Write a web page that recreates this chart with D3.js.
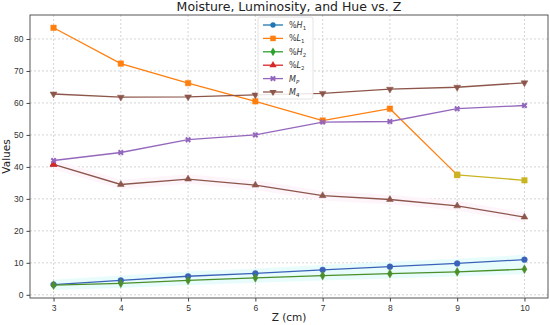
<!DOCTYPE html>
<html>
<head>
<meta charset="utf-8">
<script src="https://cdn.jsdelivr.net/npm/d3@7"></script>
<style>
  body { margin: 0; background: #fff; }
  svg { font-family: "DejaVu Sans", sans-serif; }
  .grid line { stroke: #c8c8c8; stroke-dasharray: 2,2; stroke-width: 0.8; }
  .axis text { font-size: 8.5px; fill: #333; }
  .axis path, .axis line { stroke: #444; }
</style>
</head>
<body>
<div id="chart"></div>
<script>
// data
var zValues = [3, 4, 5, 6, 7, 8, 9, 10];
var h1 = [3.2, 4.5, 5.8, 6.7, 7.8, 8.8, 9.8, 11.0];
var l1 = [83.5, 72.3, 66.2, 60.5, 54.5, 58.2, 37.5, 35.8];
var h2 = [3.0, 3.6, 4.5, 5.3, 6.0, 6.6, 7.2, 8.0];
var l2 = [40.8, 34.5, 36.2, 34.3, 31.0, 29.8, 27.8, 24.3];
var mp = [42.0, 44.5, 48.5, 50.0, 54.0, 54.2, 58.2, 59.2];
var m4 = [62.8, 61.8, 61.9, 62.5, 63.0, 64.3, 64.9, 66.3];
var yTicks = [0, 10, 20, 30, 40, 50, 60, 70, 80];

var W = 550, H = 325;
var margin = {top: 15, right: 2, bottom: 27, left: 30};
var width = W - margin.left - margin.right,
    height = H - margin.top - margin.bottom;

var x = d3.scaleLinear().domain([2.65, 10.35]).range([0, width]);
var y = d3.scaleLinear().domain([-1.0, 87.5]).range([height, 0]);

var svg = d3.select("#chart").append("svg")
  .attr("width", W).attr("height", H);
var g = svg.append("g").attr("transform", "translate(" + margin.left + "," + margin.top + ")");

// grid
g.append("g").attr("class", "grid")
  .selectAll("line").data(zValues).enter().append("line")
  .attr("x1", function(d) { return x(d); }).attr("x2", function(d) { return x(d); })
  .attr("y1", 0).attr("y2", height);
g.append("g").attr("class", "grid")
  .selectAll("line").data(yTicks).enter().append("line")
  .attr("y1", function(d) { return y(d); }).attr("y2", function(d) { return y(d); })
  .attr("x1", 0).attr("x2", width);

function pts(arr) {
  return arr.map(function(v, i) { return [zValues[i], v]; });
}

// faint bands
var band = d3.area()
  .x(function(d) { return x(d[0]); })
  .y0(function(d) { return y(d[1]); })
  .y1(function(d) { return y(d[2]); });
g.append("path")
  .datum(zValues.map(function(z, i) { return [z, h2[i] - 1.5, h1[i] + 1.5]; }))
  .attr("d", band).attr("fill", "#e9fcfc");
g.append("path")
  .datum(zValues.map(function(z, i) { return [z, l2[i] - 1.5, l2[i] + 1.5]; }))
  .attr("d", band).attr("fill", "#fef5fb");

var line = d3.line()
  .x(function(d) { return x(d[0]); })
  .y(function(d) { return y(d[1]); });

function marker(sel, type, color, size) {
  var sym;
  if (type === "circle") sym = d3.symbol().type(d3.symbolCircle).size(size || 26);
  else if (type === "square") sym = d3.symbol().type(d3.symbolSquare).size(size || 30);
  else if (type === "diamond") sym = d3.symbol().type(d3.symbolDiamond).size(size || 22);
  else if (type === "triangle") sym = d3.symbol().type(d3.symbolTriangle).size(size || 20);
  else if (type === "tridown") sym = d3.symbol().type(d3.symbolTriangle).size(size || 20);
  else if (type === "x") sym = d3.symbol().type(d3.symbolCross).size(size || 22);
  sel.attr("d", sym)
    .attr("fill", color)
    .attr("stroke", color)
    .attr("stroke-width", type === "x" ? 0 : 0.5);
  if (type === "tridown") sel.attr("transform", function(d) { return "translate(" + x(d[0]) + "," + y(d[1]) + ") rotate(180)"; });
  else if (type === "x") sel.attr("transform", function(d) { return "translate(" + x(d[0]) + "," + y(d[1]) + ") rotate(45)"; });
  else sel.attr("transform", function(d) { return "translate(" + x(d[0]) + "," + y(d[1]) + ")"; });
}

function series(data, color, type) {
  g.append("path").datum(data).attr("d", line)
    .attr("fill", "none").attr("stroke", color).attr("stroke-width", 1.3);
  g.append("g").selectAll("path").data(data).enter().append("path")
    .call(marker, type, color);
}

series(pts(h1), "#3a62b8", "circle");
series(pts(l1).slice(0, 7), "#ff7f0e", "square");
series(pts(l1).slice(6), "#c8b520", "square");
series(pts(h2), "#4b8f2a", "diamond");
series(pts(l2).slice(0, 1), "#d62728", "triangle");
series(pts(l2), "#8c564b", "triangle");
g.append("g").selectAll("path").data(pts(l2).slice(0, 1)).enter().append("path")
  .call(marker, "triangle", "#d62728");
series(pts(mp), "#9467bd", "x");
series(pts(m4), "#8c564b", "tridown");

// axes
var xAxis = d3.axisBottom(x).tickValues(zValues).tickSize(3.5).tickSizeOuter(0).tickFormat(d3.format("d"));
var yAxis = d3.axisLeft(y).tickValues(yTicks).tickSize(3.5).tickSizeOuter(0);
g.append("g").attr("class", "axis").attr("transform", "translate(0," + height + ")").call(xAxis)
  .select(".domain").remove();
g.append("g").attr("class", "axis").call(yAxis).select(".domain").remove();

g.append("rect").attr("width", width).attr("height", height)
  .attr("fill", "none").attr("stroke", "#444").attr("stroke-width", 0.9);

// labels
svg.append("text").attr("x", margin.left + width / 2).attr("y", 11)
  .attr("text-anchor", "middle").style("font-size", "12.5px").attr("fill", "#222")
  .text("Moisture, Luminosity, and Hue vs. Z");
svg.append("text").attr("x", margin.left + width / 2).attr("y", 321)
  .attr("text-anchor", "middle").style("font-size", "10.5px").attr("fill", "#222")
  .text("Z (cm)");
svg.append("text").attr("transform", "translate(10," + (margin.top + height / 2) + ") rotate(-90)")
  .attr("text-anchor", "middle").style("font-size", "10.5px").attr("fill", "#222")
  .text("Values");

// legend
var legendItems = [
  {pre: "%", v: "H", sub: "1", color: "#1f77b4", type: "circle"},
  {pre: "%", v: "L", sub: "1", color: "#ff7f0e", type: "square"},
  {pre: "%", v: "H", sub: "2", color: "#2ca02c", type: "diamond"},
  {pre: "%", v: "L", sub: "2", color: "#d62728", type: "triangle"},
  {pre: "", v: "M", sub: "P", color: "#9467bd", type: "x"},
  {pre: "", v: "M", sub: "4", color: "#8c564b", type: "tridown"}
];
var lg = svg.append("g").attr("transform", "translate(258,17)");
lg.append("rect").attr("width", 55).attr("height", 82).attr("rx", 2)
  .attr("fill", "#fff").attr("fill-opacity", 0.85).attr("stroke", "#ddd").attr("stroke-width", 0.8);
var items = lg.selectAll("g.item").data(legendItems).enter().append("g")
  .attr("class", "item")
  .attr("transform", function(d, i) { return "translate(0," + (8 + i * 13.4) + ")"; });
items.append("line").attr("x1", 5).attr("x2", 25).attr("y1", 0).attr("y2", 0)
  .attr("stroke", function(d) { return d.color; }).attr("stroke-width", 1.3);
items.each(function(d) {
  var s = d3.select(this).append("path").datum([0, 0]);
  var sym = {circle: d3.symbolCircle, square: d3.symbolSquare, diamond: d3.symbolDiamond,
    triangle: d3.symbolTriangle, tridown: d3.symbolTriangle, x: d3.symbolCross}[d.type];
  s.attr("d", d3.symbol().type(sym).size(d.type === "square" ? 30 : 22))
    .attr("fill", d.color)
    .attr("transform", "translate(15,0)" + (d.type === "tridown" ? " rotate(180)" : d.type === "x" ? " rotate(45)" : ""));
});
var t = items.append("text").attr("x", 31).attr("y", 3).style("font-size", "8px").attr("fill", "#333");
t.append("tspan").text(function(d) { return d.pre; });
t.append("tspan").style("font-style", "italic").text(function(d) { return d.v; });
t.append("tspan").attr("dy", 2).style("font-size", "5.5px")
  .style("font-style", function(d) { return d.sub === "P" ? "italic" : "normal"; })
  .text(function(d) { return d.sub; });
</script>
</body>
</html>
